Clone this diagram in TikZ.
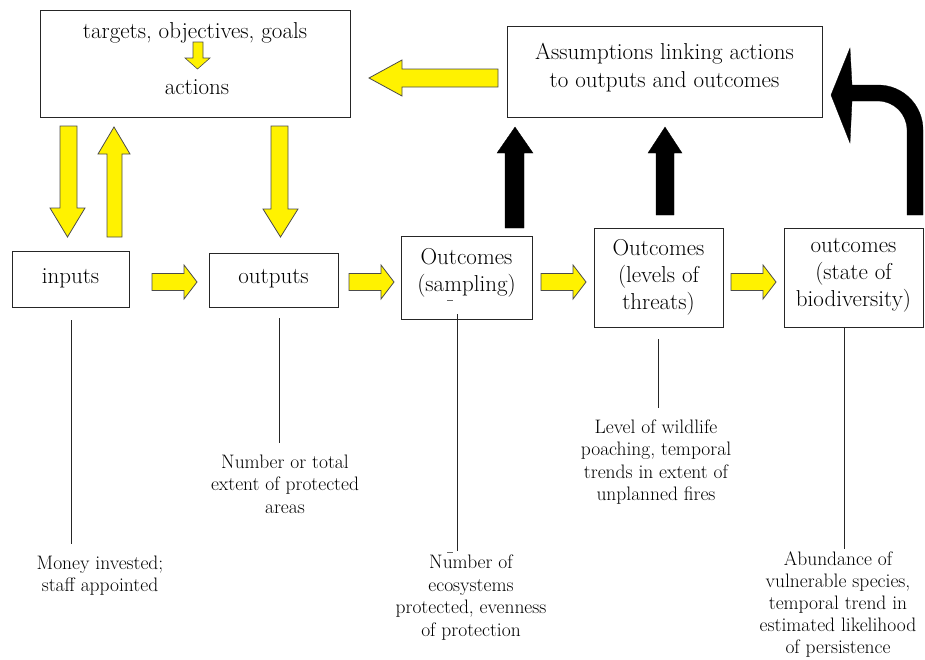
\documentclass[tikz,border=0pt]{standalone}
\usepackage{fontspec}
\begin{document}
\begin{tikzpicture}[x=1pt,y=-1pt,
  box/.style={draw=black!85, line width=1pt, inner sep=0pt},
  btxt/.style={font=\rmfamily\fontsize{23}{27}\selectfont, align=center, inner sep=0pt},
  dtxt/.style={font=\rmfamily\fontsize{19.5}{22.5}\selectfont, align=center, inner sep=0pt},
  yarr/.style={fill=yellow, draw=black!70, line width=0.8pt, line join=miter},
  barr/.style={fill=black, draw=black, line width=0.3pt},
  vline/.style={draw=black!85, line width=1pt}]
\useasboundingbox (0,0) rectangle (925,659);

% top boxes
\node[box, minimum width=310, minimum height=107] (goals) at (195,63.5) {};
\node[btxt] (goalstxt) at (195,33) {targets, objectives, goals};
\node[btxt] (actions) at (197,87.5) {actions};
\node[box, minimum width=315, minimum height=91] (assump) at (664.5,71.5) {};
\node[btxt, font=\rmfamily\fontsize{23}{28}\selectfont] (assumptxt) at (664.5,67.5) {Assumptions linking actions\\to outputs and outcomes};

% bottom boxes
\node[box, minimum width=117, minimum height=56] (inputs) at (70.5,279) {};
\node[btxt] (inputstxt) at (70.5,278) {inputs};
\node[box, minimum width=129, minimum height=54] (outputs) at (273.5,280) {};
\node[btxt] (outputstxt) at (273.5,279) {outputs};
\node[box, minimum width=131, minimum height=83] (samp) at (466.5,277.5) {};
\node[btxt] (samptxt) at (466.5,273) {Outcomes\\(sampling)};
\node[box, minimum width=129, minimum height=99] (threats) at (658.5,277.5) {};
\node[btxt] (threatstxt) at (658.5,277) {Outcomes\\(levels of\\threats)};
\node[box, minimum width=139, minimum height=99] (biod) at (853.5,277.5) {};
\node[btxt] (biodtxt) at (853.5,275.5) {outcomes\\(state of\\biodiversity)};

% small marks
\draw[black!60, line width=0.6pt] (447,300) -- (453,300);
\draw[black!60, line width=0.6pt] (447,552) -- (453,552);

% description texts
\node[dtxt] (money) at (100,575.5) {Money invested;\\staff appointed};
\node[dtxt] (area) at (285,484) {Number or total\\extent of protected\\areas};
\node[dtxt] (eco) at (471,597.5) {Number of\\ecosystems\\protected, evenness\\of protection};
\node[dtxt] (poach) at (656,462) {Level of wildlife\\poaching, temporal\\trends in extent of\\unplanned fires};
\node[dtxt, font=\rmfamily\fontsize{19.5}{22}\selectfont] (abund) at (838,604.5) {Abundance of\\vulnerable species,\\temporal trend in\\estimated likelihood\\of persistence};

% vertical connector lines
\coordinate (inA) at (71,320);   \coordinate (inB) at (71,544);
\coordinate (outA) at (279,318); \coordinate (outB) at (279,443);
\coordinate (sA) at (457,314);   \coordinate (sB) at (457,551);
\coordinate (tA) at (658,339);   \coordinate (tB) at (658,408);
\coordinate (bA) at (844,327);   \coordinate (bB) at (844,549);
\draw[vline] (inA) -- (inB);
\draw[vline] (outA) -- (outB);
\draw[vline] (sA) -- (sB);
\draw[vline] (tA) -- (tB);
\draw[vline] (bA) -- (bB);

% small yellow arrow in goals box
\draw[yarr, line width=0.6pt] (193,42) -- (203,42) -- (203,58) -- (210,58) -- (197.5,69) -- (185,58) -- (193,58) -- cycle;

% yellow arrow assumptions -> goals
\draw[yarr] (498,69) -- (402,69) -- (402,60) -- (369,78) -- (402,96) -- (402,87) -- (498,87) -- cycle;

% yellow vertical arrows
\draw[yarr] (60,126) -- (77,126) -- (77,208) -- (85,208) -- (67.5,237) -- (50,208) -- (60,208) -- cycle;
\draw[yarr] (107,237) -- (122,237) -- (122,154) -- (130,154) -- (114,127) -- (98,154) -- (107,154) -- cycle;
\draw[yarr] (271,126) -- (288,126) -- (288,209) -- (298,209) -- (280.5,237) -- (263,209) -- (271,209) -- cycle;

% yellow horizontal arrows
\foreach \a in {152,349,541,731}{
  \draw[yarr] (\a,273.5) -- (\a+32,273.5) -- (\a+32,265) -- (\a+45,282) -- (\a+32,299) -- (\a+32,290.5) -- (\a,290.5) -- cycle;
}

% black arrows
\fill[barr] (505,228) -- (524,228) -- (524,153) -- (533,153) -- (515,127) -- (497,153) -- (505,153) -- cycle;
\fill[barr] (656,215) -- (674,215) -- (674,153) -- (682,153) -- (665,127) -- (648,153) -- (656,153) -- cycle;
\fill[barr] (907,215) -- (907,130) .. controls (907,114) and (894,101) .. (878,101) -- (852,101) -- (850,143) -- (831,95) -- (850,48) -- (852,85) -- (878,85) .. controls (903,85) and (923,105) .. (923,130) -- (923,215) -- cycle;
\end{tikzpicture}
\end{document}
